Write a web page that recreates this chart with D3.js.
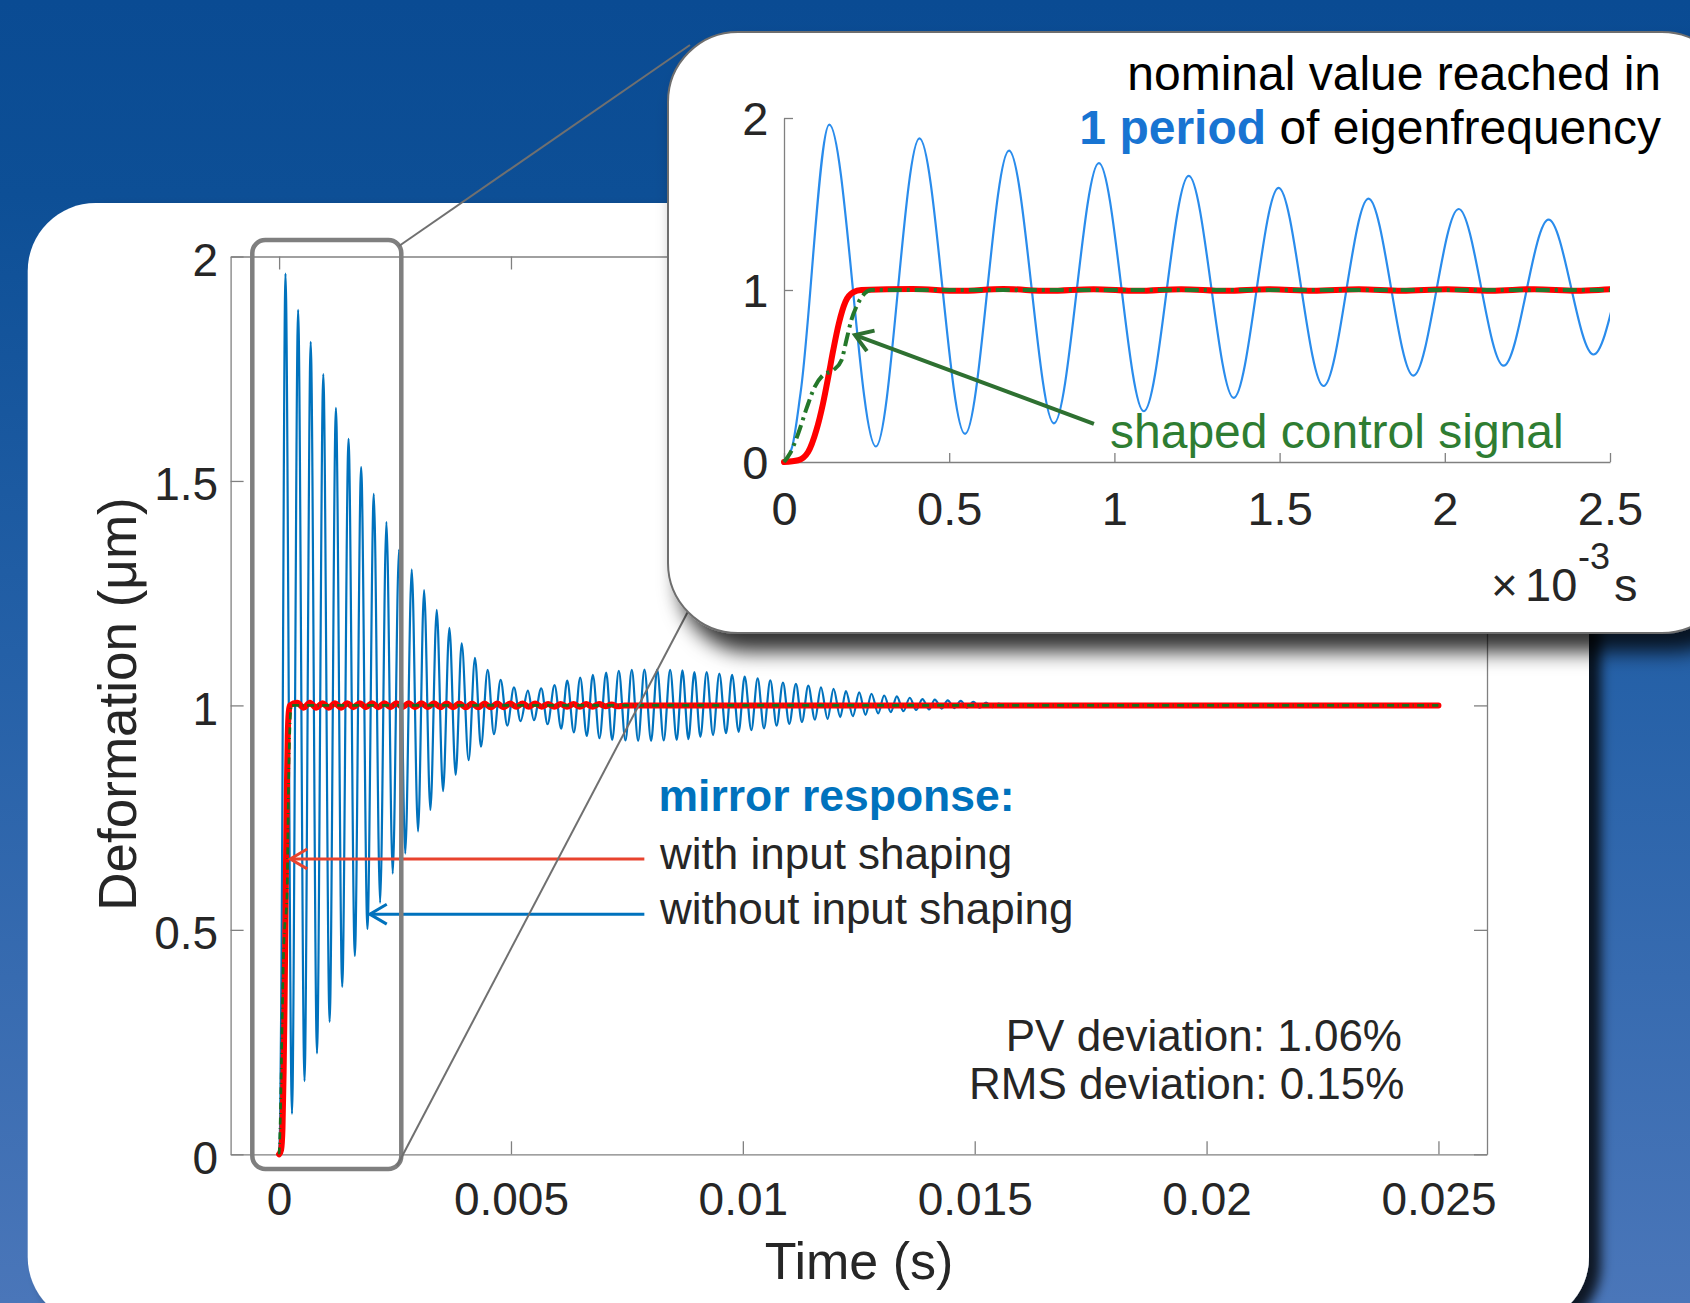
<!DOCTYPE html>
<html>
<head>
<meta charset="utf-8">
<script src="https://cdn.jsdelivr.net/npm/d3@7/dist/d3.min.js"></script>
<style>
  html, body { margin: 0; padding: 0; background: #0b4d94; overflow: hidden; }
</style>
</head>
<body>
<script>
// time in ms, deformation in um

// mirror response without input shaping (extrema)
var blueT = [0, 0.025, 0.05, 0.137, 0.278, 0.410, 0.548, 0.681, 0.817, 0.953, 1.089, 1.225, 1.361, 1.497, 1.633,
  1.769, 1.905, 2.042, 2.178, 2.314, 2.450, 2.586, 2.720, 2.860, 2.996, 3.126, 3.262, 3.399, 3.535, 3.672, 3.807,
  3.937, 4.087, 4.224, 4.353, 4.497, 4.633, 4.777, 4.920, 5.064, 5.207, 5.365, 5.494, 5.653, 5.789, 5.940, 6.083,
  6.213, 6.356, 6.493, 6.636, 6.765, 6.909, 7.053, 7.182, 7.325, 7.469, 7.605, 7.742, 7.878, 8.022, 8.152, 8.294,
  8.432, 8.574, 8.697, 8.826, 8.955, 9.084, 9.220, 9.357, 9.493, 9.637, 9.767, 9.910, 10.039, 10.183, 10.319,
  10.456, 10.592, 10.728, 10.865, 11.001, 11.145, 11.274, 11.411, 11.554, 11.684, 11.827, 11.956, 12.100, 12.222,
  12.373, 12.509, 12.645, 12.774, 12.918, 13.047, 13.191, 13.320, 13.463, 13.600, 13.736, 13.872, 14.016, 14.138,
  14.289, 14.417, 14.561, 14.699, 14.834, 14.970, 15.110, 15.245, 15.380, 15.520, 15.660, 15.800, 15.930, 16.070,
  16.200, 16.340, 16.500, 25.000];
var blueV = [0, 0.09, 0.40, 1.962, 0.09, 1.881, 0.163, 1.810, 0.225, 1.738, 0.295, 1.663, 0.373, 1.594, 0.442,
  1.531, 0.502, 1.471, 0.560, 1.409, 0.625, 1.347, 0.670, 1.303, 0.719, 1.257, 0.767, 1.213, 0.809, 1.173, 0.845,
  1.138, 0.878, 1.106, 0.908, 1.079, 0.936, 1.057, 0.955, 1.040, 0.965, 1.033, 0.967, 1.038, 0.958, 1.045, 0.948,
  1.055, 0.940, 1.062, 0.932, 1.068, 0.927, 1.073, 0.923, 1.077, 0.922, 1.079, 0.921, 1.080, 0.921, 1.080, 0.922,
  1.079, 0.923, 1.078, 0.925, 1.074, 0.930, 1.074, 0.934, 1.071, 0.938, 1.068, 0.941, 1.064, 0.945, 1.060,
  0.949, 1.056, 0.955, 1.051, 0.959, 1.048, 0.963, 1.044, 0.968, 1.040, 0.970, 1.037, 0.974, 1.032,
  0.976, 1.029, 0.979, 1.026, 0.982, 1.022, 0.985, 1.020, 0.987, 1.017, 0.990, 1.014, 0.991, 1.013,
  0.993, 1.011, 0.994, 1.010, 0.995, 1.008, 0.995, 1.006, 0.996, 1.004, 0.997, 1.003, 0.998, 1.002,
  0.999, 1.001, 1.000, 1.000];

// mirror response with input shaping
var redT = [0, 0.043, 0.073, 0.098, 0.118, 0.134, 0.149, 0.166, 0.186, 0.209, 0.234,
  0.39, 0.53, 0.663, 0.80, 0.937, 1.07, 1.202, 1.335, 1.467, 1.60, 1.74, 1.87, 2.005, 2.14, 2.27, 2.40,
  2.53, 2.66, 2.795, 2.93, 3.07, 3.205, 3.34, 3.475, 3.61, 3.75, 3.89, 4.025, 4.16, 4.295, 4.43, 4.565,
  4.70, 4.84, 4.98, 5.115, 5.25, 5.385, 5.52, 5.66, 5.80, 5.935, 6.07, 6.21, 6.35, 6.485, 6.62, 6.76,
  6.90, 7.035, 7.17, 7.30, 7.45, 25];
var redV = [0, 0.01, 0.058, 0.185, 0.34, 0.495, 0.65, 0.806, 0.932, 0.986, 1.0,
  1.006, 0.995, 1.006, 0.995, 1.005, 0.995, 1.005, 0.995, 1.005, 0.996, 1.005, 0.996, 1.005, 0.996, 1.005, 0.996,
  1.005, 0.996, 1.005, 0.996, 1.005, 0.996, 1.005, 0.996, 1.004, 0.996, 1.004, 0.996, 1.004, 0.996, 1.004, 0.996,
  1.004, 0.996, 1.004, 0.997, 1.004, 0.997, 1.004, 0.997, 1.003, 0.997, 1.003, 0.997, 1.003, 0.997, 1.003, 0.997,
  1.003, 0.998, 1.002, 0.998, 1.0, 1.0];

// shaped control signal
var greenT = [0, 0.018, 0.043, 0.068, 0.093, 0.118, 0.149, 0.174, 0.189, 0.204, 0.224, 0.244, 0.264, 25];
var greenV = [0, 0.049, 0.165, 0.31, 0.437, 0.505, 0.534, 0.592, 0.709, 0.826, 0.922, 0.98, 1.0, 1.0];

var mainXTicks = [0, 0.005, 0.01, 0.015, 0.02, 0.025];
var mainXLabels = ['0', '0.005', '0.01', '0.015', '0.02', '0.025'];
var mainYTicks = [0, 0.5, 1, 1.5, 2];
var mainYLabels = ['0', '0.5', '1', '1.5', '2'];
var insetXTicks = [0, 0.5, 1, 1.5, 2, 2.5];
var insetXLabels = ['0', '0.5', '1', '1.5', '2', '2.5'];
var insetYTicks = [0, 1, 2];
var insetYLabels = ['0', '1', '2'];

var FONT = '"Liberation Sans", Arial, Helvetica, sans-serif';
var W = 1690, H = 1303;

var svg = d3.select('body').append('svg')
  .attr('width', W).attr('height', H)
  .style('display', 'block')
  .attr('font-family', FONT);

var defs = svg.append('defs');
var bg = defs.append('linearGradient').attr('id', 'bg')
  .attr('x1', 0).attr('y1', 0).attr('x2', 0).attr('y2', 1);
[[0, '#0a4b93'], [0.15, '#0d4f96'], [0.5, '#2460a7'], [1, '#4a76b9']].forEach(function (s) {
  bg.append('stop').attr('offset', s[0]).attr('stop-color', s[1]);
});
defs.append('filter').attr('id', 'panelShadow')
  .attr('x', -0.05).attr('y', -0.05).attr('width', 1.15).attr('height', 1.15)
  .append('feDropShadow').attr('dx', 12).attr('dy', 8).attr('stdDeviation', 6)
  .attr('flood-color', '#000').attr('flood-opacity', 0.8);
defs.append('filter').attr('id', 'insetShadow')
  .attr('x', -0.1).attr('y', -0.1).attr('width', 1.3).attr('height', 1.3)
  .append('feDropShadow').attr('dx', 12).attr('dy', 18).attr('stdDeviation', 10)
  .attr('flood-color', '#000').attr('flood-opacity', 0.8);

svg.append('rect').attr('width', W).attr('height', H).attr('fill', 'url(#bg)');
svg.append('rect')
  .attr('x', 27.7).attr('y', 203).attr('width', 1561.3).attr('height', 1122).attr('rx', 68)
  .attr('fill', '#fff').attr('filter', 'url(#panelShadow)');

function series(T, V) {
  return T.map(function (t, i) { return [t, V[i]]; });
}
var blue = series(blueT, blueV), red = series(redT, redV), green = series(greenT, greenV);

function arrow(g, x1, y1, x2, y2, color, w, len, ang) {
  var a = Math.atan2(y1 - y2, x1 - x2);
  g.append('line')
    .attr('x1', x1).attr('y1', y1).attr('x2', x2).attr('y2', y2)
    .attr('stroke', color).attr('stroke-width', w);
  g.append('path')
    .attr('d', d3.line()([
      [x2 + len * Math.cos(a + ang), y2 + len * Math.sin(a + ang)],
      [x2, y2],
      [x2 + len * Math.cos(a - ang), y2 + len * Math.sin(a - ang)]
    ]))
    .attr('fill', 'none').attr('stroke', color).attr('stroke-width', w);
}

function styleAxis(g, size, dy) {
  g.attr('font-family', FONT).attr('font-size', size);
  g.selectAll('.domain, .tick line').attr('stroke', '#808080').attr('stroke-width', 1.3);
  g.selectAll('text').attr('fill', '#262626');
  if (dy) g.selectAll('text').attr('dy', dy);
}

// ---------- main plot ----------
var xMain = d3.scaleLinear().domain([-0.001046, 0.026047]).range([230.6, 1487]);
var yMain = d3.scaleLinear().domain([0, 2]).range([1154.3, 256.5]);
var main = svg.append('g');

main.append('g').attr('transform', 'translate(0,' + yMain(0) + ')')
  .call(d3.axisBottom(xMain).tickValues(mainXTicks).tickFormat(function (d, i) { return mainXLabels[i]; })
    .tickSizeInner(-13).tickSizeOuter(0).tickPadding(28))
  .call(styleAxis, 46);
main.append('g').attr('transform', 'translate(0,' + yMain(2) + ')')
  .call(d3.axisTop(xMain).tickValues(mainXTicks).tickFormat('').tickSizeInner(-13).tickSizeOuter(0))
  .call(styleAxis, 46);
main.append('g').attr('transform', 'translate(' + xMain.range()[0] + ',0)')
  .call(d3.axisLeft(yMain).tickValues(mainYTicks).tickFormat(function (d, i) { return mainYLabels[i]; })
    .tickSizeInner(-13).tickSizeOuter(0).tickPadding(12.5))
  .call(styleAxis, 46, '0.41em');
main.append('g').attr('transform', 'translate(' + xMain.range()[1] + ',0)')
  .call(d3.axisRight(yMain).tickValues(mainYTicks).tickFormat('').tickSizeInner(-13).tickSizeOuter(0))
  .call(styleAxis, 46);

var lineMain = d3.line()
  .x(function (d) { return xMain(d[0] / 1000); })
  .y(function (d) { return yMain(d[1]); })
  .curve(d3.curveMonotoneX);

main.append('path').datum(blue).attr('d', lineMain)
  .attr('fill', 'none').attr('stroke', '#0072bd').attr('stroke-width', 2.2);
main.append('path').datum(red).attr('d', lineMain)
  .attr('fill', 'none').attr('stroke', '#ff0000').attr('stroke-width', 6)
  .attr('stroke-linecap', 'round').attr('stroke-linejoin', 'round');
main.append('path').datum(green).attr('d', lineMain)
  .attr('fill', 'none').attr('stroke', '#1a6e1a').attr('stroke-width', 2.7)
  .attr('stroke-dasharray', '7,3.5,1,3.5');

main.append('text').attr('transform', 'translate(136,704) rotate(-90)')
  .attr('text-anchor', 'middle').attr('font-size', 53).attr('fill', '#262626')
  .text('Deformation (\u03bcm)');
main.append('text').attr('x', 859).attr('y', 1279)
  .attr('text-anchor', 'middle').attr('font-size', 52).attr('fill', '#262626')
  .text('Time (s)');

main.append('text').attr('x', 658.5).attr('y', 810.5)
  .attr('font-size', 44.5).attr('font-weight', 'bold').attr('fill', '#0072bd')
  .text('mirror response:');
main.append('text').attr('x', 660).attr('y', 869)
  .attr('font-size', 44).attr('fill', '#262626').text('with input shaping');
main.append('text').attr('x', 660).attr('y', 924)
  .attr('font-size', 44).attr('fill', '#262626').text('without input shaping');

arrow(main, xMain(0.007876), yMain(0.658), xMain(0.00024), yMain(0.658), '#e8432e', 3, 19.7, 0.53);
arrow(main, xMain(0.007876), yMain(0.535), xMain(0.001955), yMain(0.535), '#0072bd', 3, 19.7, 0.53);

main.append('text').attr('x', 1402).attr('y', 1051).attr('text-anchor', 'end')
  .attr('font-size', 44).attr('fill', '#262626').text('PV deviation: 1.06%');
main.append('text').attr('x', 1404.4).attr('y', 1099.4).attr('text-anchor', 'end')
  .attr('font-size', 44).attr('fill', '#262626').text('RMS deviation: 0.15%');

// zoom window and connector lines
main.append('rect').attr('x', 252.3).attr('y', 240).attr('width', 149).attr('height', 929).attr('rx', 13)
  .attr('fill', 'none').attr('stroke', '#7f7f7f').attr('stroke-width', 4.5);
main.append('line').attr('x1', 399).attr('y1', 246).attr('x2', 690).attr('y2', 45)
  .attr('stroke', '#707070').attr('stroke-width', 2);
main.append('line').attr('x1', 397).attr('y1', 1166).attr('x2', 694).attr('y2', 600)
  .attr('stroke', '#707070').attr('stroke-width', 2);

// ---------- inset ----------
var inset = svg.append('g');
inset.append('rect').attr('x', 668).attr('y', 32).attr('width', 1064).attr('height', 601).attr('rx', 70)
  .attr('fill', '#fff').attr('stroke', '#6e6e6e').attr('stroke-width', 2)
  .attr('filter', 'url(#insetShadow)');

var xIn = d3.scaleLinear().domain([0, 2.5]).range([784, 1610]);
var yIn = d3.scaleLinear().domain([0, 2]).range([462, 118]);

defs.append('clipPath').attr('id', 'insetClip').append('rect')
  .attr('x', 770).attr('y', 60).attr('width', xIn(2.5) - 770).attr('height', 420);

inset.append('g').attr('transform', 'translate(0,' + yIn(0) + ')')
  .call(d3.axisBottom(xIn).tickValues(insetXTicks).tickFormat(function (d, i) { return insetXLabels[i]; })
    .tickSizeInner(-9).tickSizeOuter(0).tickPadding(29.6))
  .call(styleAxis, 47);
inset.append('g').attr('transform', 'translate(' + xIn(0) + ',0)')
  .call(d3.axisLeft(yIn).tickValues(insetYTicks).tickFormat(function (d, i) { return insetYLabels[i]; })
    .tickSizeInner(-9).tickSizeOuter(0).tickPadding(15.5))
  .call(styleAxis, 47, '0.36em');

var lineIn = d3.line()
  .x(function (d) { return xIn(d[0]); })
  .y(function (d) { return yIn(d[1]); })
  .curve(d3.curveMonotoneX);
var plotIn = inset.append('g').attr('clip-path', 'url(#insetClip)');
plotIn.append('path').datum(blue).attr('d', lineIn)
  .attr('fill', 'none').attr('stroke', '#2a8cec').attr('stroke-width', 2.2);
plotIn.append('path').datum(red).attr('d', lineIn)
  .attr('fill', 'none').attr('stroke', '#ff0000').attr('stroke-width', 6)
  .attr('stroke-linecap', 'round').attr('stroke-linejoin', 'round');
plotIn.append('path').datum(green).attr('d', lineIn)
  .attr('fill', 'none').attr('stroke', '#24782a').attr('stroke-width', 4)
  .attr('stroke-dasharray', '14,5,3,5');

inset.append('text').attr('x', 1661).attr('y', 90).attr('text-anchor', 'end')
  .attr('font-size', 48).attr('fill', '#000').text('nominal value reached in');
var t2 = inset.append('text').attr('x', 1661).attr('y', 144).attr('text-anchor', 'end')
  .attr('font-size', 48).attr('fill', '#000');
t2.append('tspan').attr('font-weight', 'bold').attr('fill', '#1874d2').text('1 period');
t2.append('tspan').text(' of eigenfrequency');

arrow(inset, xIn(0.938), yIn(0.221), xIn(0.215), yIn(0.738), '#2e7031', 4, 20, 0.58);
inset.append('text').attr('x', 1110).attr('y', 448)
  .attr('font-size', 48).attr('fill', '#2e7d32').text('shaped control signal');

inset.append('text').attr('x', 1491).attr('y', 600.7).attr('font-size', 46).attr('fill', '#262626').text('\u00d7');
inset.append('text').attr('x', 1525).attr('y', 600.7).attr('font-size', 47).attr('fill', '#262626').text('10');
inset.append('text').attr('x', 1578).attr('y', 569).attr('font-size', 36).attr('fill', '#262626').text('-3');
inset.append('text').attr('x', 1614).attr('y', 600.7).attr('font-size', 47).attr('fill', '#262626').text('s');
</script>
</body>
</html>
